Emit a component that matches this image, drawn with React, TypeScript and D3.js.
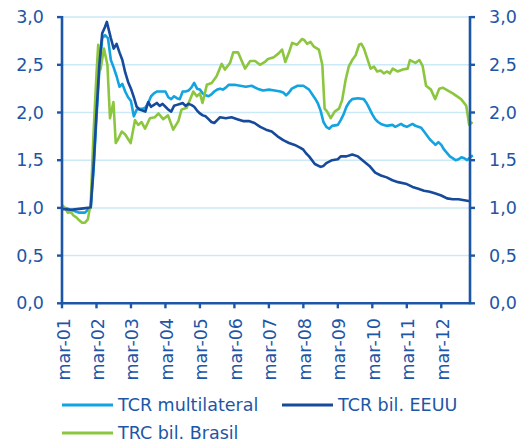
import React from 'react';
import * as d3 from 'd3';

// meses desde mar-01, valor del índice
const multilateral: [number, number][] = [
  [0, 1.01], [2, 0.99], [4, 0.97], [6, 0.95], [8, 0.95], [9, 0.98], [10, 1.0], [11, 1.4], [12, 1.95],
  [13, 2.45], [14, 2.78], [15, 2.81], [16, 2.78], [17, 2.55], [18, 2.47], [19, 2.38], [20, 2.27],
  [21, 2.3], [22, 2.22], [23, 2.16], [24, 2.12], [25, 1.96], [26, 2.03], [27, 2.04], [28, 2.04],
  [29, 2.05], [30, 2.1], [31, 2.17], [32, 2.2], [33, 2.22], [34, 2.22], [35, 2.22], [36, 2.22],
  [37, 2.16], [38, 2.14], [39, 2.17], [40, 2.15], [41, 2.14], [42, 2.22], [43, 2.22], [44, 2.23],
  [45, 2.26], [46, 2.31], [47, 2.25], [48, 2.24], [49, 2.2], [50, 2.18], [51, 2.17], [52, 2.19],
  [53, 2.22], [54, 2.24], [55, 2.25], [56, 2.24], [57, 2.26], [58, 2.29], [60, 2.29], [62, 2.28],
  [64, 2.27], [66, 2.28], [68, 2.25], [70, 2.23], [72, 2.24], [74, 2.23], [76, 2.22], [77, 2.21],
  [78, 2.18], [79, 2.21], [80, 2.25], [82, 2.28], [84, 2.28], [86, 2.24], [88, 2.15], [89, 2.1],
  [90, 2.02], [91, 1.9], [92, 1.85], [93, 1.83], [94, 1.86], [96, 1.87], [97, 1.92], [98, 1.98],
  [99, 2.06], [100, 2.11], [101, 2.14], [103, 2.15], [105, 2.14], [106, 2.1], [107, 2.04], [108, 1.98],
  [109, 1.93], [110, 1.9], [111, 1.88], [112, 1.87], [113, 1.86], [115, 1.87], [116, 1.85], [118, 1.88],
  [119, 1.86], [120, 1.85], [122, 1.88], [123, 1.86], [125, 1.84], [126, 1.8], [128, 1.72], [129, 1.69],
  [130, 1.66], [131, 1.69], [132, 1.66], [133, 1.61], [135, 1.54], [137, 1.5], [138, 1.51], [139, 1.53],
  [140, 1.52], [141, 1.5], [142, 1.53], [143, 1.55],
];

const eeuu: [number, number][] = [
  [0, 0.99], [3, 0.98], [6, 0.99], [9, 1.0], [10, 1.01], [11, 1.45], [12, 2.0], [13, 2.5], [14, 2.83],
  [15, 2.9], [15.6, 2.95], [17, 2.78], [18, 2.67], [19, 2.72], [20, 2.63], [21, 2.55], [22, 2.42],
  [23, 2.32], [24, 2.25], [25, 2.16], [26, 2.06], [27, 2.03], [28, 2.02], [29, 2.01], [30, 2.11],
  [31, 2.06], [32, 2.08], [33, 2.1], [34, 2.07], [35, 2.09], [36, 2.06], [37, 2.03], [38, 2.01],
  [39, 2.07], [40, 2.08], [41, 2.09], [42, 2.1], [43, 2.07], [44, 2.09], [45, 2.08], [46, 2.06],
  [47, 2.02], [48, 1.99], [49, 1.97], [50, 1.96], [51, 1.93], [52, 1.9], [53, 1.89], [54, 1.92],
  [55, 1.95], [57, 1.94], [59, 1.95], [61, 1.93], [63, 1.91], [65, 1.91], [67, 1.89], [69, 1.85],
  [71, 1.82], [73, 1.8], [75, 1.75], [77, 1.71], [79, 1.68], [81, 1.66], [83, 1.63], [84, 1.61],
  [85, 1.57], [86, 1.54], [88, 1.46], [90, 1.43], [91, 1.44], [92, 1.47], [94, 1.5], [96, 1.51],
  [97, 1.54], [99, 1.54], [101, 1.56], [103, 1.54], [105, 1.49], [107, 1.44], [109, 1.37], [111, 1.34],
  [113, 1.32], [115, 1.29], [117, 1.27], [120, 1.25], [122, 1.22], [124, 1.2], [126, 1.18], [128, 1.17],
  [130, 1.15], [132, 1.13], [134, 1.1], [136, 1.09], [138, 1.09], [140, 1.08], [142, 1.07],
];

const brasil: [number, number][] = [
  [0, 1.03], [1, 1.0], [2, 0.95], [3, 0.96], [4, 0.92], [5, 0.9], [6, 0.87], [7, 0.845], [8, 0.845],
  [9, 0.88], [10, 1.05], [11, 1.8], [12, 2.4], [12.6, 2.71], [13.4, 2.45], [14.6, 2.67], [15.8, 2.5],
  [16.7, 1.94], [17.9, 2.11], [18.7, 1.68], [19.5, 1.72], [20.8, 1.8], [22, 1.77], [23.9, 1.68],
  [25.4, 1.92], [26.5, 1.87], [27.7, 1.9], [28.9, 1.83], [30.6, 1.94], [32.3, 1.95], [33.6, 1.99],
  [35.2, 1.93], [36.9, 1.97], [38.7, 1.82], [40.5, 1.91], [41.6, 2.03], [43.4, 2.05], [44.5, 2.13],
  [45.7, 2.22], [46.9, 2.17], [48, 2.2], [48.9, 2.1], [50.4, 2.29], [52.1, 2.31], [53.8, 2.38],
  [55.6, 2.51], [56.7, 2.45], [58.5, 2.52], [59.6, 2.63], [61.3, 2.63], [63.7, 2.46], [65.5, 2.54],
  [67.2, 2.54], [68.9, 2.5], [70.6, 2.53], [71.7, 2.56], [73.7, 2.58], [75.4, 2.62], [76.6, 2.66],
  [77.7, 2.53], [78.9, 2.62], [80.1, 2.73], [81.8, 2.71], [83.5, 2.77], [84.3, 2.76], [85.3, 2.72],
  [86.5, 2.74], [87.7, 2.69], [89.4, 2.66], [90.6, 2.5], [91.4, 2.04], [92.3, 2.01], [93.5, 1.94],
  [94.9, 2.01], [96.4, 2.04], [97.5, 2.13], [98.7, 2.34], [99.8, 2.48], [101, 2.55], [102.2, 2.6],
  [103.4, 2.71], [104.2, 2.72], [105.1, 2.67], [106.2, 2.57], [107.4, 2.46], [108.6, 2.48],
  [109.7, 2.43], [110.9, 2.44], [112, 2.41], [113.2, 2.43], [114.1, 2.41], [115.1, 2.46],
  [116.8, 2.43], [118.6, 2.45], [120.3, 2.46], [121.1, 2.55], [123, 2.52], [124.4, 2.55],
  [125.5, 2.49], [126.7, 2.28], [128.4, 2.24], [129.9, 2.14], [131.3, 2.25], [132.5, 2.26],
  [136, 2.2], [138.9, 2.14], [140.7, 2.07], [141.7, 1.87], [142.9, 1.9],
];

const etiquetasX = ['mar-01', 'mar-02', 'mar-03', 'mar-04', 'mar-05', 'mar-06', 'mar-07', 'mar-08', 'mar-09', 'mar-10', 'mar-11', 'mar-12'];
const ticksY = [0, 0.5, 1, 1.5, 2, 2.5, 3];

const colorAzulClaro = '#12a3e0';
const colorAzulOscuro = '#174a9a';
const colorVerde = '#8cc63e';
const colorEje = '#1d56a6';
const colorGrid = '#cbe9f7';
const fuente = '"DejaVu Sans", sans-serif';

export default function App() {
  const x = d3.scaleLinear().domain([0, 142]).range([62, 470]);
  const y = d3.scaleLinear().domain([0, 3]).range([303.3, 17.1]);
  const linea = d3.line<[number, number]>().x(d => x(d[0])).y(d => y(d[1]));
  const fmt = (v: number) => d3.format('.1f')(v).replace('.', ',');

  const series = [
    { datos: multilateral, color: colorAzulClaro },
    { datos: brasil, color: colorVerde },
    { datos: eeuu, color: colorAzulOscuro },
  ];

  const leyenda = [
    { label: 'TCR multilateral', color: colorAzulClaro, lx: 62, ly: 405 },
    { label: 'TCR bil. EEUU', color: colorAzulOscuro, lx: 282, ly: 405 },
    { label: 'TRC bil. Brasil', color: colorVerde, lx: 62, ly: 433 },
  ];

  return (
    <svg width={520} height={445} style={{ position: 'absolute', left: 0, top: 0, background: '#fff' }} fontFamily={fuente}>
      {/* grid */}
      {ticksY.filter(t => t > 0).map(t => (
        <line key={'g' + t} x1={x(0)} x2={x(142)} y1={y(t)} y2={y(t)} stroke={colorGrid} strokeWidth={1.5} />
      ))}
      {/* series */}
      {series.map((s, i) => (
        <path key={i} d={linea(s.datos) || ''} fill="none" stroke={s.color} strokeWidth={2.6} strokeLinejoin="round" />
      ))}
      {/* ejes */}
      <line x1={x(0)} x2={x(0)} y1={y(3) - 1} y2={y(0) + 1} stroke={colorEje} strokeWidth={2.6} />
      <line x1={x(142)} x2={x(142)} y1={y(3) - 1} y2={y(0) + 1} stroke={colorEje} strokeWidth={2.6} />
      <line x1={x(0)} x2={x(142)} y1={y(0)} y2={y(0)} stroke={colorEje} strokeWidth={2.6} />
      {ticksY.map(t => (
        <g key={'t' + t}>
          <line x1={x(0) - 5} x2={x(0)} y1={y(t)} y2={y(t)} stroke={colorEje} strokeWidth={2.4} />
          <line x1={x(142)} x2={x(142) + 5} y1={y(t)} y2={y(t)} stroke={colorEje} strokeWidth={2.4} />
          <text x={44} y={y(t)} textAnchor="end" dominantBaseline="central" fontSize={17.5} fill={colorEje}>{fmt(t)}</text>
          <text x={489} y={y(t)} textAnchor="start" dominantBaseline="central" fontSize={17.5} fill={colorEje}>{fmt(t)}</text>
        </g>
      ))}
      {etiquetasX.map((lab, i) => {
        const px = x(i * 12);
        return (
          <g key={lab}>
            <line x1={px} x2={px} y1={y(0)} y2={y(0) + 5} stroke={colorEje} strokeWidth={2.4} />
            <text transform={`translate(${px + 1.5},${318}) rotate(-90)`} textAnchor="end" dominantBaseline="central" fontSize={17.5} fill={colorEje}>{lab}</text>
          </g>
        );
      })}
      {/* leyenda */}
      {leyenda.map(l => (
        <g key={l.label}>
          <line x1={l.lx} x2={l.lx + 51} y1={l.ly} y2={l.ly} stroke={l.color} strokeWidth={3} />
          <text x={l.lx + 56} y={l.ly} dominantBaseline="central" fontSize={17.5} fill={colorEje}>{l.label}</text>
        </g>
      ))}
    </svg>
  );
}
